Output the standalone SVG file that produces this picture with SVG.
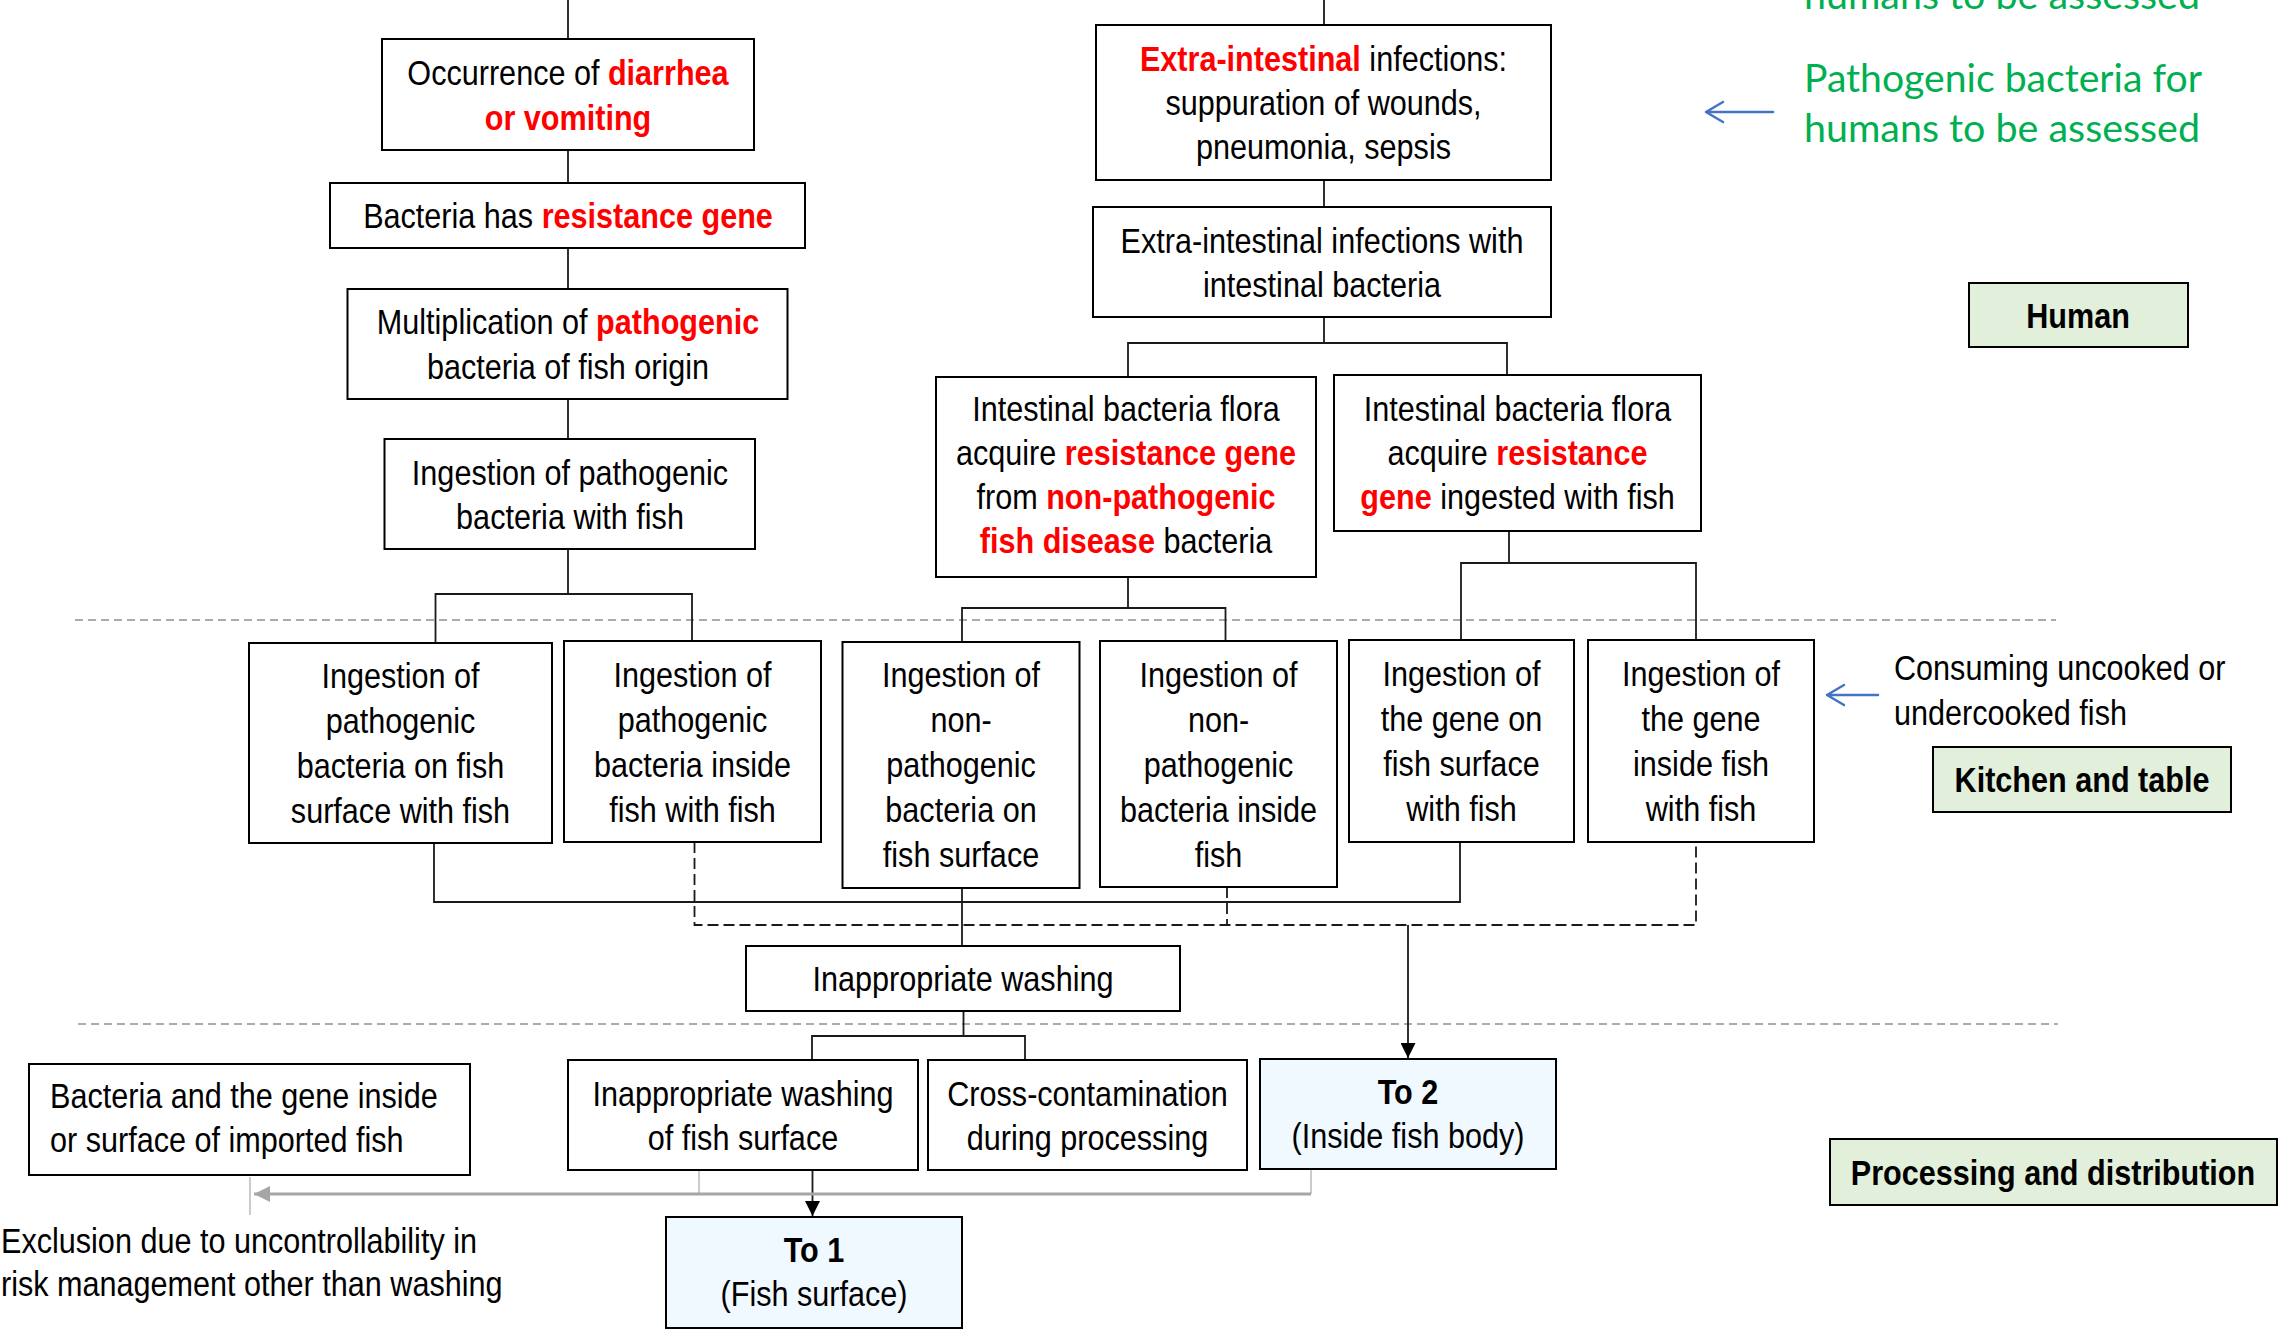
<svg xmlns="http://www.w3.org/2000/svg" width="2279" height="1333" viewBox="0 0 2279 1333">
  <defs>
    <style>
      .bg { fill: #ffffff; }
      .box { fill: #ffffff; stroke: #000000; stroke-width: 2; }
      .to { fill: #f0f9ff; stroke: #000000; stroke-width: 2; }
      .lab { fill: #e2efda; stroke: #000000; stroke-width: 2; }
      .t { font-family: "Liberation Sans", Arial, sans-serif; font-size: 36px; fill: #000000; }
      .c { text-anchor: middle; }
      .r { fill: #ff0000; font-weight: bold; }
      .b { font-weight: bold; }
      .g { font-family: Lato, "Open Sans", sans-serif; font-size: 38px; fill: #00b050; }
      .ln { stroke: #1a1a1a; stroke-width: 1.8; fill: none; }
      .dl { stroke-dasharray: 11 5; }
      .sep { stroke: #ababab; stroke-width: 2; stroke-dasharray: 8 5; fill: none; }
      .gl { stroke: #a6a6a6; stroke-width: 3; fill: none; }
      .gt { stroke: #bfbfbf; stroke-width: 1.6; fill: none; }
      .bl { stroke: #4472c4; stroke-width: 2.5; fill: none; stroke-linecap: round; stroke-linejoin: round; }
    </style>
    <marker id="ah" viewBox="0 0 10 10" refX="10" refY="5" markerUnits="userSpaceOnUse" markerWidth="15" markerHeight="15" orient="auto">
      <path d="M0,0 L10,5 L0,10 z" fill="#000000"/>
    </marker>
    <marker id="ahg" viewBox="0 0 10 10" refX="10" refY="5" markerUnits="userSpaceOnUse" markerWidth="16" markerHeight="18" orient="auto">
      <path d="M0,0 L10,5 L0,10 z" fill="#a6a6a6"/>
    </marker>
  </defs>

  <rect class="bg" x="0" y="0" width="2279" height="1333"/>

  <!-- zone separators -->
  <g id="separators">
    <line class="sep" x1="75" y1="620" x2="2056" y2="620"/>
    <line class="sep" x1="78" y1="1024" x2="2058" y2="1024"/>
  </g>

  <!-- connectors -->
  <g id="connectors">
    <!-- left trunk -->
    <line class="ln" x1="568" y1="0" x2="568" y2="39"/>
    <line class="ln" x1="568" y1="150" x2="568" y2="183"/>
    <line class="ln" x1="568" y1="248" x2="568" y2="289"/>
    <line class="ln" x1="568" y1="399" x2="568" y2="439"/>
    <polyline class="ln" points="568,549 568,594"/>
    <polyline class="ln" points="435.5,643 435.5,594 692,594 692,641"/>
    <!-- right trunk -->
    <line class="ln" x1="1324" y1="0" x2="1324" y2="25"/>
    <line class="ln" x1="1324" y1="180" x2="1324" y2="207"/>
    <line class="ln" x1="1324" y1="317" x2="1324" y2="343"/>
    <polyline class="ln" points="1128,377 1128,343 1507,343 1507,375"/>
    <!-- flora branches -->
    <line class="ln" x1="1128" y1="577" x2="1128" y2="608"/>
    <polyline class="ln" points="962,642 962,608 1225.5,608 1225.5,641"/>
    <line class="ln" x1="1509" y1="531" x2="1509" y2="563"/>
    <polyline class="ln" points="1461,640 1461,563 1696,563 1696,640"/>
    <!-- surface routes (solid) -->
    <polyline class="ln" points="434,843 434,902 1460,902 1460,842"/>
    <line class="ln" x1="962" y1="888" x2="962" y2="946"/>
    <!-- inside-body routes (dashed) -->
    <polyline class="ln dl" points="694.5,842 694.5,925 1696,925 1696,842"/>
    <line class="ln dl" x1="1227" y1="887" x2="1227" y2="925"/>
    <line class="ln" x1="1408" y1="925" x2="1408" y2="1058" marker-end="url(#ah)"/>
    <!-- washing branches -->
    <line class="ln" x1="963.5" y1="1011" x2="963.5" y2="1036"/>
    <polyline class="ln" points="812,1060 812,1036 1025,1036 1025,1060"/>
    <line class="ln" x1="812.5" y1="1170" x2="812.5" y2="1216" marker-end="url(#ah)"/>
    <!-- exclusion route -->
    <line class="gt" x1="699" y1="1170" x2="699" y2="1194"/>
    <line class="gt" x1="1311" y1="1169" x2="1311" y2="1194"/>
    <line class="gt" x1="250" y1="1177" x2="250" y2="1215"/>
    <line class="gl" x1="1311" y1="1194" x2="254" y2="1194" marker-end="url(#ahg)"/>
    <!-- side pointers -->
    <path class="bl" d="M1773,112 L1706,112 M1723,102 L1706,112 L1723,122"/>
    <path class="bl" d="M1878,695 L1827,695 M1844,685 L1827,695 L1844,705"/>
  </g>

  <!-- human stage -->
  <g id="n-occurrence">
    <rect class="box" x="382" y="39" width="372" height="111"/>
    <text class="t c" transform="translate(568,85) scale(0.85,1)">Occurrence of <tspan class="r">diarrhea</tspan></text>
    <text class="t c r" transform="translate(568,130) scale(0.85,1)">or vomiting</text>
  </g>
  <g id="n-resistance">
    <rect class="box" x="330" y="183" width="475" height="65"/>
    <text class="t c" transform="translate(568,228) scale(0.85,1)">Bacteria has <tspan class="r">resistance gene</tspan></text>
  </g>
  <g id="n-multiplication">
    <rect class="box" x="347.5" y="289" width="440" height="110"/>
    <text class="t c" transform="translate(568,334) scale(0.85,1)">Multiplication of <tspan class="r">pathogenic</tspan></text>
    <text class="t c" transform="translate(568,379) scale(0.85,1)">bacteria of fish origin</text>
  </g>
  <g id="n-ingestion-pathogenic">
    <rect class="box" x="384.5" y="439" width="370.5" height="110"/>
    <text class="t c" transform="translate(570,485) scale(0.85,1)">Ingestion of pathogenic</text>
    <text class="t c" transform="translate(570,529) scale(0.85,1)">bacteria with fish</text>
  </g>
  <g id="n-extra-intestinal">
    <rect class="box" x="1096" y="25" width="455" height="155"/>
    <text class="t c" transform="translate(1323.5,71) scale(0.85,1)"><tspan class="r">Extra-intestinal</tspan> infections:</text>
    <text class="t c" transform="translate(1323.5,115) scale(0.85,1)">suppuration of wounds,</text>
    <text class="t c" transform="translate(1323.5,159) scale(0.85,1)">pneumonia, sepsis</text>
  </g>
  <g id="n-extra-with-intestinal">
    <rect class="box" x="1093" y="207" width="458" height="110"/>
    <text class="t c" transform="translate(1322,253) scale(0.85,1)">Extra-intestinal infections with</text>
    <text class="t c" transform="translate(1322,297) scale(0.85,1)">intestinal bacteria</text>
  </g>
  <g id="n-flora-nonpathogenic">
    <rect class="box" x="936" y="377" width="380" height="200"/>
    <text class="t c" transform="translate(1126,421) scale(0.85,1)">Intestinal bacteria flora</text>
    <text class="t c" transform="translate(1126,465) scale(0.85,1)">acquire <tspan class="r">resistance gene</tspan></text>
    <text class="t c" transform="translate(1126,509) scale(0.85,1)">from <tspan class="r">non-pathogenic</tspan></text>
    <text class="t c" transform="translate(1126,553) scale(0.85,1)"><tspan class="r">fish disease</tspan> bacteria</text>
  </g>
  <g id="n-flora-gene">
    <rect class="box" x="1334" y="375" width="367" height="156"/>
    <text class="t c" transform="translate(1517.5,421) scale(0.85,1)">Intestinal bacteria flora</text>
    <text class="t c" transform="translate(1517.5,465) scale(0.85,1)">acquire <tspan class="r">resistance</tspan></text>
    <text class="t c" transform="translate(1517.5,509) scale(0.85,1)"><tspan class="r">gene</tspan> ingested with fish</text>
  </g>

  <!-- kitchen and table stage -->
  <g id="n-e1">
    <rect class="box" x="249" y="643" width="303" height="200"/>
    <text class="t c" transform="translate(400.5,688) scale(0.85,1)">Ingestion of</text>
    <text class="t c" transform="translate(400.5,733) scale(0.85,1)">pathogenic</text>
    <text class="t c" transform="translate(400.5,778) scale(0.85,1)">bacteria on fish</text>
    <text class="t c" transform="translate(400.5,823) scale(0.85,1)">surface with fish</text>
  </g>
  <g id="n-e2">
    <rect class="box" x="564" y="641" width="257" height="201"/>
    <text class="t c" transform="translate(692.5,687) scale(0.85,1)">Ingestion of</text>
    <text class="t c" transform="translate(692.5,732) scale(0.85,1)">pathogenic</text>
    <text class="t c" transform="translate(692.5,777) scale(0.85,1)">bacteria inside</text>
    <text class="t c" transform="translate(692.5,822) scale(0.85,1)">fish with fish</text>
  </g>
  <g id="n-e3">
    <rect class="box" x="842.5" y="642" width="237" height="246"/>
    <text class="t c" transform="translate(961,687) scale(0.85,1)">Ingestion of</text>
    <text class="t c" transform="translate(961,732) scale(0.85,1)">non-</text>
    <text class="t c" transform="translate(961,777) scale(0.85,1)">pathogenic</text>
    <text class="t c" transform="translate(961,822) scale(0.85,1)">bacteria on</text>
    <text class="t c" transform="translate(961,867) scale(0.85,1)">fish surface</text>
  </g>
  <g id="n-e4">
    <rect class="box" x="1100" y="641" width="237" height="246"/>
    <text class="t c" transform="translate(1218.5,687) scale(0.85,1)">Ingestion of</text>
    <text class="t c" transform="translate(1218.5,732) scale(0.85,1)">non-</text>
    <text class="t c" transform="translate(1218.5,777) scale(0.85,1)">pathogenic</text>
    <text class="t c" transform="translate(1218.5,822) scale(0.85,1)">bacteria inside</text>
    <text class="t c" transform="translate(1218.5,867) scale(0.85,1)">fish</text>
  </g>
  <g id="n-e5">
    <rect class="box" x="1349" y="640" width="225" height="202"/>
    <text class="t c" transform="translate(1461.5,686) scale(0.85,1)">Ingestion of</text>
    <text class="t c" transform="translate(1461.5,731) scale(0.85,1)">the gene on</text>
    <text class="t c" transform="translate(1461.5,776) scale(0.85,1)">fish surface</text>
    <text class="t c" transform="translate(1461.5,821) scale(0.85,1)">with fish</text>
  </g>
  <g id="n-e6">
    <rect class="box" x="1588" y="640" width="226" height="202"/>
    <text class="t c" transform="translate(1701,686) scale(0.85,1)">Ingestion of</text>
    <text class="t c" transform="translate(1701,731) scale(0.85,1)">the gene</text>
    <text class="t c" transform="translate(1701,776) scale(0.85,1)">inside fish</text>
    <text class="t c" transform="translate(1701,821) scale(0.85,1)">with fish</text>
  </g>
  <g id="n-washing">
    <rect class="box" x="746" y="946" width="434" height="65"/>
    <text class="t c" transform="translate(963,991) scale(0.85,1)">Inappropriate washing</text>
  </g>

  <!-- processing and distribution stage -->
  <g id="n-washing-surface">
    <rect class="box" x="568" y="1060" width="350" height="110"/>
    <text class="t c" transform="translate(743,1106) scale(0.85,1)">Inappropriate washing</text>
    <text class="t c" transform="translate(743,1150) scale(0.85,1)">of fish surface</text>
  </g>
  <g id="n-cross">
    <rect class="box" x="928" y="1060" width="319" height="110"/>
    <text class="t c" transform="translate(1087.5,1106) scale(0.85,1)">Cross-contamination</text>
    <text class="t c" transform="translate(1087.5,1150) scale(0.85,1)">during processing</text>
  </g>
  <g id="n-to2">
    <rect class="to" x="1260" y="1059" width="296" height="110"/>
    <text class="t c b" transform="translate(1408,1104) scale(0.85,1)">To 2</text>
    <text class="t c" transform="translate(1408,1148) scale(0.85,1)">(Inside fish body)</text>
  </g>
  <g id="n-imported">
    <rect class="box" x="29" y="1064" width="441" height="111"/>
    <text class="t" transform="translate(50,1108) scale(0.85,1)">Bacteria and the gene inside</text>
    <text class="t" transform="translate(50,1152) scale(0.85,1)">or surface of imported fish</text>
  </g>
  <g id="n-to1">
    <rect class="to" x="666" y="1217" width="296" height="111"/>
    <text class="t c b" transform="translate(814,1262) scale(0.85,1)">To 1</text>
    <text class="t c" transform="translate(814,1306) scale(0.85,1)">(Fish surface)</text>
  </g>
  <g id="n-exclusion">
    <text class="t" transform="translate(1,1253) scale(0.85,1)">Exclusion due to uncontrollability in</text>
    <text class="t" transform="translate(1,1296) scale(0.85,1)">risk management other than washing</text>
  </g>

  <!-- stage labels and notes -->
  <g id="n-assessed-top">
    <text class="g" x="1804" y="9" textLength="396" lengthAdjust="spacingAndGlyphs">humans to be assessed</text>
  </g>
  <g id="n-assessed">
    <text class="g" x="1804" y="92" textLength="398" lengthAdjust="spacingAndGlyphs">Pathogenic bacteria for</text>
    <text class="g" x="1804" y="142" textLength="396" lengthAdjust="spacingAndGlyphs">humans to be assessed</text>
  </g>
  <g id="n-human">
    <rect class="lab" x="1969" y="283" width="219" height="64"/>
    <text class="t c b" transform="translate(2078,328) scale(0.85,1)">Human</text>
  </g>
  <g id="n-consuming">
    <text class="t" transform="translate(1894,680) scale(0.85,1)">Consuming uncooked or</text>
    <text class="t" transform="translate(1894,725) scale(0.85,1)">undercooked fish</text>
  </g>
  <g id="n-kitchen">
    <rect class="lab" x="1933" y="747" width="298" height="65"/>
    <text class="t c b" transform="translate(2082,792) scale(0.85,1)">Kitchen and table</text>
  </g>
  <g id="n-processing">
    <rect class="lab" x="1830" y="1139" width="447" height="66"/>
    <text class="t c b" transform="translate(2053,1185) scale(0.85,1)">Processing and distribution</text>
  </g>
</svg>
